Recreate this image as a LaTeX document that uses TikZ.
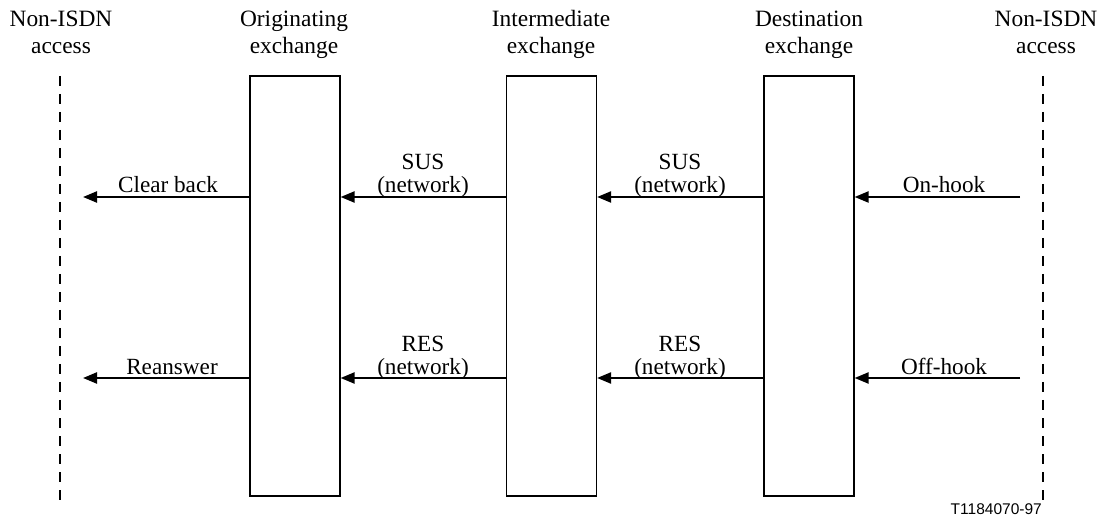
\documentclass[tikz,border=0pt]{standalone}
\usepackage{fontspec}
\setmainfont{Liberation Serif}
\newfontfamily\labsans{Liberation Sans}
\usetikzlibrary{arrows.meta}
\begin{document}
\begin{tikzpicture}[x=1pt,y=-1pt,
  hdr/.style={font=\fontsize{23.4}{27}\selectfont, align=center, inner sep=0pt, anchor=base},
  lbl/.style={font=\fontsize{23.2}{23}\selectfont, align=center, inner sep=0pt, anchor=base},
  exch/.style={draw, line width=1.2pt, minimum width=90pt, minimum height=420pt, inner sep=0pt},
  acc/.style={line width=2pt, dash pattern=on 10pt off 8pt},
  msg/.style={line width=2.2pt, -{Triangle[length=14pt,width=11pt]}}]
\useasboundingbox (0,0) rectangle (1101,521);
% headers (anchor = baseline of last line)
\node[hdr] (hL) at (61,54) {Non-ISDN\\access};
\node[hdr] (hO) at (294,54) {Originating\\exchange};
\node[hdr] (hI) at (551,54) {Intermediate\\exchange};
\node[hdr] (hD) at (809,54) {Destination\\exchange};
\node[hdr] (hR) at (1046,54) {Non-ISDN\\access};
% boxes
\node[exch] (O) at (295,286) {};
\node[exch] (I) at (551.5,286) {};
\node[exch] (D) at (809,286) {};
% access lines
\coordinate (Lt) at (60,76); \coordinate (Lb) at (60,500);
\coordinate (Rt) at (1043,76); \coordinate (Rb) at (1043,500);
\draw[acc] (Lt) -- (Lb);
\draw[acc] (Rt) -- (Rb);
% arrow endpoints
\coordinate (Lc) at (83,197); \coordinate (Lr) at (83,378);
\coordinate (Rc) at (1020,197); \coordinate (Rr) at (1020,378);
% row 1
\draw[msg] (O.west |- Lc) -- (Lc);
\draw[msg] (I.west |- Lc) -- (O.east |- Lc);
\draw[msg] (D.west |- Lc) -- (I.east |- Lc);
\draw[msg] (Rc) -- (D.east |- Rc);
\node[lbl] (t1) at (168,193) {Clear back};
\node[lbl] (t2) at (423,193) {SUS\\(network)};
\node[lbl] (t3) at (680,193) {SUS\\(network)};
\node[lbl] (t4) at (944,193) {On-hook};
% row 2
\draw[msg] (O.west |- Lr) -- (Lr);
\draw[msg] (I.west |- Lr) -- (O.east |- Lr);
\draw[msg] (D.west |- Lr) -- (I.east |- Lr);
\draw[msg] (Rr) -- (D.east |- Rr);
\node[lbl] (t5) at (172,374) {Reanswer};
\node[lbl] (t6) at (423,374) {RES\\(network)};
\node[lbl] (t7) at (680,374) {RES\\(network)};
\node[lbl] (t8) at (944,374) {Off-hook};
% figure id
\node[font=\labsans\fontsize{15.5}{18}\selectfont, anchor=east, inner sep=0pt] (id) at (1042,509) {T1184070-97};
\end{tikzpicture}
\end{document}
